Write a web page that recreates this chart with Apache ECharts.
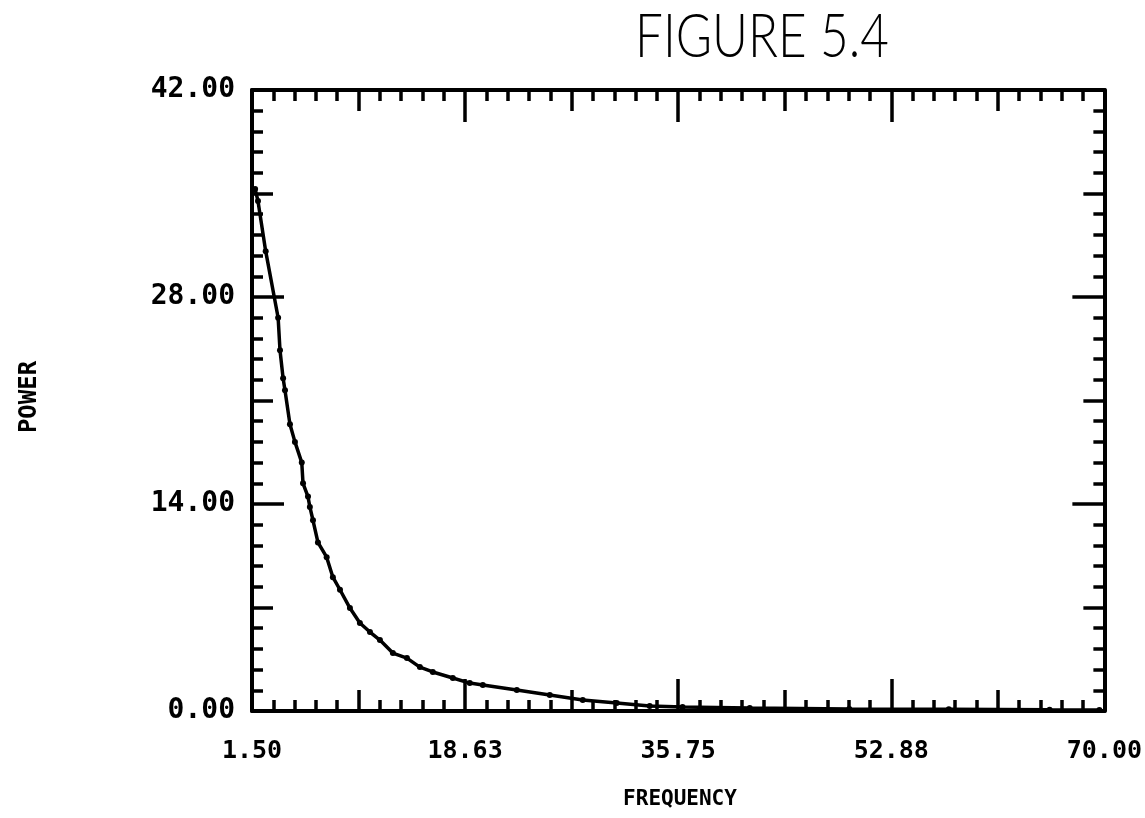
<!DOCTYPE html>
<html>
<head>
<meta charset="utf-8">
<script src="https://cdn.jsdelivr.net/npm/echarts@6/dist/echarts.min.js"></script>
<style>html,body{margin:0;padding:0;background:#fff;}#c{width:1145px;height:818px;}</style>
</head>
<body>
<div id="c"></div>
<script>
// ---- data ----
const freq  = [1.75, 1.98, 2.6, 3.6, 3.75, 4.0, 4.15, 4.55, 4.95, 5.5, 5.6, 6.0, 6.15, 6.4, 6.8, 7.5, 8.0, 8.57, 9.37, 10.17, 10.98, 11.78, 12.82, 13.95, 14.99, 16.03, 17.64, 19.0, 20.05, 22.78, 25.43, 28.08, 30.81, 33.46, 36.1, 41.5, 49.5, 57.5, 65.6, 69.6];
const power = [35.3, 34.5, 31.1, 26.6, 24.4, 22.5, 21.7, 19.4, 18.2, 16.8, 15.4, 14.5, 13.8, 12.9, 11.4, 10.4, 9.05, 8.2, 6.96, 5.95, 5.34, 4.8, 3.92, 3.58, 2.97, 2.64, 2.23, 1.89, 1.76, 1.42, 1.08, 0.74, 0.54, 0.34, 0.27, 0.2, 0.14, 0.12, 0.08, 0.07];
const xTicks = [1.5, 18.625, 35.75, 52.875, 70];
const xTickLabels = ['1.50', '18.63', '35.75', '52.88', '70.00'];
const yTicks = [0, 14, 28, 42];
const yTickLabels = ['0.00', '14.00', '28.00', '42.00'];
const titleText = 'FIGURE 5.4';
const xName = 'FREQUENCY';
const yName = 'POWER';

// ---- tick helpers (positions derived from major ticks) ----
function mids(t) { const r = []; for (let i = 0; i < t.length - 1; i++) r.push((t[i] + t[i + 1]) / 2); return r; }
function minors(t) { const r = []; for (let i = 0; i < t.length - 1; i++) { const s = (t[i + 1] - t[i]) / 10; for (let k = 1; k < 10; k++) if (k !== 5) r.push(t[i] + k * s); } return r; }

const FONT = "'DejaVu Sans Mono', monospace";
const W = 3.5;

function axisDef(dim, pos, vals, len, withLine, labels) {
  const a = {
    type: 'value', position: pos,
    min: dim === 'x' ? xTicks[0] : yTicks[0],
    max: dim === 'x' ? xTicks[xTicks.length - 1] : yTicks[yTicks.length - 1],
    splitLine: { show: false },
    axisLine: { show: withLine, onZero: false, lineStyle: { color: '#000', width: 4 } },
    axisTick: { show: true, inside: true, length: len, customValues: vals, lineStyle: { color: '#000', width: W } },
    axisLabel: { show: false }
  };
  if (labels) {
    const ticks = dim === 'x' ? xTicks : yTicks;
    a.axisLabel = {
      show: true, customValues: ticks,
      formatter: v => { let i = ticks.findIndex(t => Math.abs(t - v) < 1e-6); return i >= 0 ? labels[i] : ''; },
      color: '#000', fontFamily: FONT, fontWeight: 'bold', fontSize: dim === 'x' ? 25 : 28,
      margin: dim === 'x' ? 28 : 17
    };
  }
  return a;
}

const chart = echarts.init(document.getElementById('c'), null, { renderer: 'canvas' });
chart.setOption({
  backgroundColor: '#fff',
  animation: false,
  grid: { left: 252, right: 40, top: 90, bottom: 107, containLabel: false },
  xAxis: [
    axisDef('x', 'bottom', xTicks, 32, true, xTickLabels),
    axisDef('x', 'bottom', mids(xTicks), 21, false),
    axisDef('x', 'bottom', minors(xTicks), 11, false),
    axisDef('x', 'top', xTicks, 32, true),
    axisDef('x', 'top', mids(xTicks), 21, false),
    axisDef('x', 'top', minors(xTicks), 11, false)
  ],
  yAxis: [
    axisDef('y', 'left', yTicks, 32, true, yTickLabels),
    axisDef('y', 'left', mids(yTicks), 21, false),
    axisDef('y', 'left', minors(yTicks), 11, false),
    axisDef('y', 'right', yTicks, 32, true),
    axisDef('y', 'right', mids(yTicks), 21, false),
    axisDef('y', 'right', minors(yTicks), 11, false)
  ],
  graphic: [
    { type: 'text', x: 762, y: 37, scaleX: 0.81, style: { text: titleText, font: "300 61px Lato", fill: '#000', textAlign: 'center', textVerticalAlign: 'middle' } },
    { type: 'text', x: 680, y: 800, style: { text: xName, font: "bold 21px 'DejaVu Sans Mono'", fill: '#000', textAlign: 'center', textVerticalAlign: 'middle' } },
    { type: 'text', x: 30, y: 397, rotation: Math.PI / 2, style: { text: yName, font: "bold 24px 'DejaVu Sans Mono'", fill: '#000', textAlign: 'center', textVerticalAlign: 'middle' } }
  ],
  series: [{
    type: 'line', xAxisIndex: 0, yAxisIndex: 0,
    data: freq.map((f, i) => [f, power[i]]),
    showSymbol: true, symbol: 'circle', symbolSize: 6,
    itemStyle: { color: '#000' },
    lineStyle: { color: '#000', width: 3.5 },
    clip: true
  }]
});
</script>
</body>
</html>
